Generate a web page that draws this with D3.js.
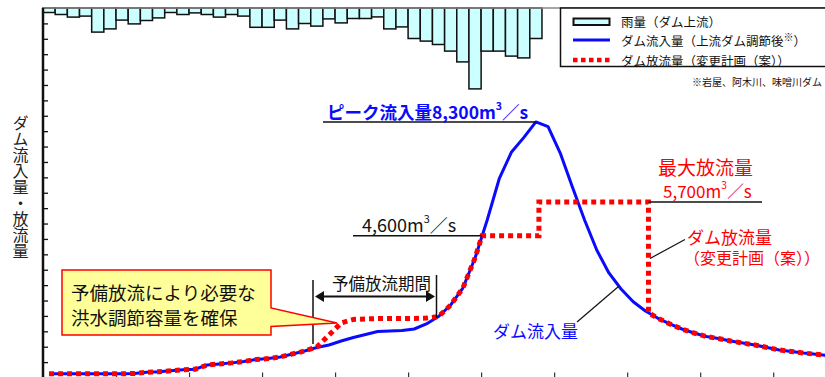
<!DOCTYPE html>
<html>
<head>
<meta charset="utf-8">
<script src="https://cdn.jsdelivr.net/npm/d3@7"></script>
<style>
  html, body { margin: 0; padding: 0; background: #fff; }
  svg { display: block; font-family: "Noto Sans CJK JP", "Noto Sans", sans-serif; }
</style>
</head>
<body>
<svg id="chart" width="825" height="377"></svg>
<script>
// Hourly rainfall upstream of the dam (mm); bar k covers hour k..k+1
const rainfall = [2, 3, 4.3, 3.8, 11.8, 10.2, 5.8, 7.7, 6, 4.7,
                  2, 3, 2.2, 3, 4.3, 3, 3.8, 9.4, 9.4, 5.8,
                  10.2, 7.5, 8.8, 5.2, 7.2, 5, 5, 4.2, 10.2, 9.2,
                  15, 16.3, 18, 21.3, 26.7, 40.2, 21.3, 21.3, 23.8, 24.7,
                  15];

// Dam inflow after upstream dam regulation (m3/s), sampled mid-hour
const inflowHours = d3.range(65).map(i => i + 0.5);
const inflow = [120, 120, 120, 120, 120, 120, 120, 130, 170, 185,
                220, 250, 270, 405, 440, 475, 520, 585, 615, 665,
                765, 860, 975, 1055, 1185, 1300, 1395, 1495, 1510, 1525,
                1575, 1740, 1980, 2355, 2905, 3880, 5115, 6470, 7325, 7790,
                8300, 8145, 7290, 6185, 5115, 4140, 3395, 2875, 2460, 2160,
                1930, 1740, 1575, 1445, 1330, 1265, 1185, 1120, 1055, 975,
                895, 845, 795, 755, 715];

// Planned dam release (m3/s); repeated hours give the vertical steps
const releaseHours = [0.5, 1.5, 2.5, 3.5, 4.5, 5.5, 6.5, 7.5, 8.5, 9.5,
                      10.5, 11.5, 12.5, 13.5, 14.5, 15.5, 16.5, 17.5, 18.5, 19.5,
                      20.5, 21.5, 22.5, 23.5, 24.5, 25.5, 26.5, 27.5, 28.5, 29.5,
                      30.5, 31.5, 32.5, 33.5, 34.5, 35.5, 36.07, 40.75, 40.75, 49.75,
                      49.75, 50.5, 51.5, 52.5, 53.5, 54.5, 55.5, 56.5, 57.5, 58.5,
                      59.5, 60.5, 61.5, 62.5, 63.5, 64.5];
const release = [120, 120, 120, 120, 120, 120, 120, 130, 170, 185,
                 220, 250, 270, 405, 440, 475, 520, 585, 615, 665,
                 765, 860, 990, 1380, 1770, 1885, 1900, 1915, 1915, 1915,
                 1920, 1930, 1980, 2355, 2905, 3880, 4600, 4600, 5700, 5700,
                 2100, 1930, 1740, 1575, 1445, 1330, 1265, 1185, 1120, 1055,
                 975, 895, 845, 795, 755, 715];

const peakInflow = 8300;
const preReleaseLevel = 4600;
const maxRelease = 5700;

const hourTicks = [6, 12, 18, 24, 30, 36, 42, 48, 54, 60];
const flowTicks = d3.range(500, 12000, 500);

const svg = d3.select("#chart");
const BLUE = "#0a0aff", RED = "#ff0000";

const x = d3.scaleLinear().domain([0, 66]).range([43, 43 + 66 * 12.17]);
const y = d3.scaleLinear().domain([0, 12000]).range([377.5, 8]);
const rainY = d3.scaleLinear().domain([0, 50]).range([8.5, 108.5]);

const plot = svg.append("g");
plot.append("clipPath").attr("id", "clip")
  .append("rect").attr("x", 43).attr("y", 0).attr("width", 782).attr("height", 377);

// rainfall bars hanging from the top frame
plot.append("g").selectAll("rect").data(rainfall).join("rect")
  .attr("x", (d, i) => x(i))
  .attr("y", 8)
  .attr("width", (d, i) => x(i + 1) - x(i))
  .attr("height", d => rainY(d) - 8)
  .attr("fill", "#ccffff")
  .attr("stroke", "#111")
  .attr("stroke-width", 1.5);

// top frame
svg.append("line").attr("x1", 43).attr("x2", 825).attr("y1", 8).attr("y2", 8)
  .attr("stroke", "#888").attr("stroke-width", 1.5);

// left axis with inner ticks
const yAxis = svg.append("g").attr("transform", "translate(43,0)")
  .call(d3.axisRight(y).tickValues(flowTicks).tickSize(5).tickFormat(""));
yAxis.select(".domain").remove();
yAxis.selectAll(".tick line").attr("stroke", "#111").attr("stroke-width", 1.3);
svg.append("line").attr("x1", 43).attr("x2", 43).attr("y1", 8).attr("y2", 377)
  .attr("stroke", "#111").attr("stroke-width", 2.5);

// bottom axis ticks
const xAxis = svg.append("g").attr("transform", "translate(0,377.5)")
  .call(d3.axisTop(x).tickValues(hourTicks).tickSize(5).tickFormat(""));
xAxis.select(".domain").remove();
xAxis.selectAll(".tick line").attr("stroke", "#333").attr("stroke-width", 1.2);

// y-axis title (vertical)
svg.append("text")
  .attr("x", 20.5).attr("y", 115)
  .style("writing-mode", "vertical-rl")
  .attr("font-size", 16).attr("fill", "#222")
  .text("ダム流入量・放流量");

// flow lines
const flowLine = d3.line().x(d => x(d[0])).y(d => y(d[1]));
const inflowPts = inflowHours.map((h, i) => [h, inflow[i]]);
const releasePts = releaseHours.map((h, i) => [h, release[i]]);

const lines = svg.append("g").attr("clip-path", "url(#clip)");
lines.append("path").datum(inflowPts)
  .attr("d", flowLine).attr("fill", "none")
  .attr("stroke", BLUE).attr("stroke-width", 3).attr("stroke-linejoin", "round");
lines.append("path").datum(releasePts)
  .attr("d", flowLine).attr("fill", "none")
  .attr("stroke", RED).attr("stroke-width", 5).attr("stroke-dasharray", "5 4");

// ---- annotations ----
const ann = svg.append("g");

// label of the form "<head>m³/s" with a raised 3
function flowLabel(g, px, py, size, color, weight, head) {
  const t = g.append("text").attr("x", px).attr("y", py)
    .attr("dominant-baseline", "central")
    .attr("font-size", size).attr("fill", color).attr("font-weight", weight);
  t.append("tspan").text(head + "m");
  t.append("tspan").attr("font-size", size * 0.6).attr("dy", -size * 0.35).text("3");
  t.append("tspan").attr("dy", size * 0.35).text("／s");
  return t;
}

// peak inflow
ann.append("line").attr("x1", 323).attr("x2", x(40.5))
  .attr("y1", y(peakInflow)).attr("y2", y(peakInflow))
  .attr("stroke", "#111").attr("stroke-width", 1.5);
flowLabel(ann, 327, 111, 17.5, BLUE, "bold", "ピーク流入量" + d3.format(",")(peakInflow));

// pre-release level
ann.append("line").attr("x1", 353).attr("x2", x(36.07))
  .attr("y1", y(preReleaseLevel)).attr("y2", y(preReleaseLevel))
  .attr("stroke", "#111").attr("stroke-width", 1.5);
flowLabel(ann, 362, 224, 18, "#111", "normal", d3.format(",")(preReleaseLevel));

// maximum release
ann.append("line").attr("x1", x(49.75)).attr("x2", 762)
  .attr("y1", y(maxRelease)).attr("y2", y(maxRelease))
  .attr("stroke", "#111").attr("stroke-width", 1.5);
ann.append("text").attr("x", 658).attr("y", 166).attr("dominant-baseline", "central")
  .attr("font-size", 19).attr("fill", RED).text("最大放流量");
flowLabel(ann, 663, 189.5, 17, RED, "normal", d3.format(",")(maxRelease));

// release label with leader
ann.append("line").attr("x1", 650).attr("y1", 258.5).attr("x2", 685).attr("y2", 239.5)
  .attr("stroke", "#111").attr("stroke-width", 1.2);
ann.append("text").attr("x", 687).attr("y", 236.5).attr("dominant-baseline", "central")
  .attr("font-size", 17).attr("fill", RED).text("ダム放流量");
ann.append("text").attr("x", 684).attr("y", 257).attr("dominant-baseline", "central")
  .attr("font-size", 16).attr("fill", RED).text("（変更計画（案））");

// inflow label with leader
ann.append("line").attr("x1", 577).attr("y1", 322).attr("x2", 618.5).attr("y2", 286.5)
  .attr("stroke", "#111").attr("stroke-width", 1.2);
ann.append("text").attr("x", 493).attr("y", 330).attr("dominant-baseline", "central")
  .attr("font-size", 17).attr("fill", BLUE).text("ダム流入量");

// pre-release period bracket
ann.append("line").attr("x1", 313).attr("x2", 313).attr("y1", 280).attr("y2", 344)
  .attr("stroke", "#111").attr("stroke-width", 1.5);
ann.append("line").attr("x1", 436.5).attr("x2", 436.5).attr("y1", 275).attr("y2", 318)
  .attr("stroke", "#111").attr("stroke-width", 1.5);
ann.append("line").attr("x1", 320).attr("x2", 430).attr("y1", 296.5).attr("y2", 296.5)
  .attr("stroke", "#111").attr("stroke-width", 2);
ann.append("path").attr("d", "M315,296.5 L324,291 L324,302 Z").attr("fill", "#111");
ann.append("path").attr("d", "M435,296.5 L426,291 L426,302 Z").attr("fill", "#111");
ann.append("text").attr("x", 332).attr("y", 283).attr("dominant-baseline", "central")
  .attr("font-size", 16.5).attr("fill", "#111").text("予備放流期間");

// callout box
ann.append("path")
  .attr("d", "M62,270 H271 V308 L337,323 L271,326.5 V335 H62 Z")
  .attr("fill", "#ffff99").attr("stroke", RED).attr("stroke-width", 1.5);
ann.append("text").attr("x", 71).attr("y", 291.5).attr("dominant-baseline", "central")
  .attr("font-size", 18.5).attr("fill", "#111").text("予備放流により必要な");
ann.append("text").attr("x", 71).attr("y", 317).attr("dominant-baseline", "central")
  .attr("font-size", 18.5).attr("fill", "#111").text("洪水調節容量を確保");

// ---- legend ----
const lg = svg.append("g");
lg.append("rect").attr("x", 560.5).attr("y", 8).attr("width", 280).attr("height", 58.5)
  .attr("fill", "#fff").attr("stroke", "#111").attr("stroke-width", 1.5);
lg.append("rect").attr("x", 573.5).attr("y", 18.5).attr("width", 36).attr("height", 6.5)
  .attr("fill", "#ccffff").attr("stroke", "#111").attr("stroke-width", 2);
lg.append("line").attr("x1", 573).attr("x2", 610).attr("y1", 40).attr("y2", 40)
  .attr("stroke", BLUE).attr("stroke-width", 3);
lg.append("line").attr("x1", 573).attr("x2", 610).attr("y1", 60).attr("y2", 60)
  .attr("stroke", RED).attr("stroke-width", 4.5).attr("stroke-dasharray", "4.5 3.5");
const legendRows = [["雨量（ダム上流）", 21.5], ["ダム流入量（上流ダム調節後", 40], ["ダム放流量（変更計画（案））", 60]];
legendRows.forEach(([label, ly], i) => {
  const t = lg.append("text").attr("x", 621).attr("y", ly).attr("dominant-baseline", "central")
    .attr("font-size", 12.5).attr("fill", "#111").text(label);
  if (i === 1) {
    t.append("tspan").attr("font-size", 10).attr("dy", -4).text("※");
    t.append("tspan").attr("dy", 4).text("）");
  }
});
lg.append("text").attr("x", 822).attr("y", 81).attr("text-anchor", "end")
  .attr("dominant-baseline", "central").attr("font-size", 10).attr("fill", "#111")
  .text("※岩屋、阿木川、味噌川ダム");
</script>
</body>
</html>
